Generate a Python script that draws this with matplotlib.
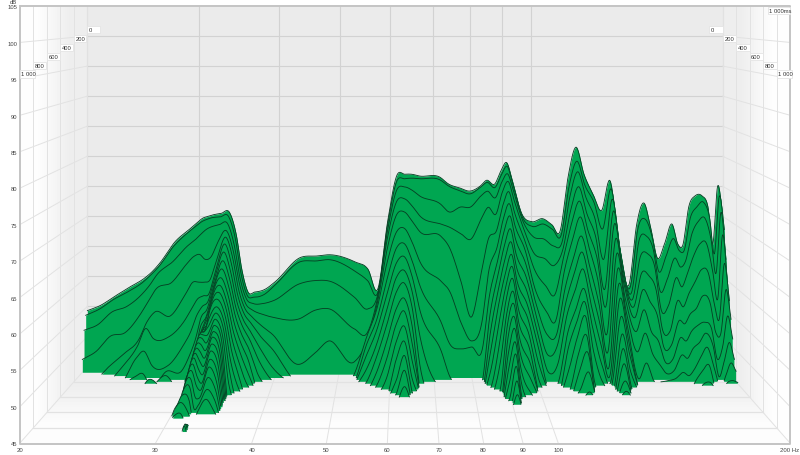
import numpy as np
import matplotlib
matplotlib.use("Agg")
from matplotlib import pyplot as plt
from matplotlib.patches import Polygon, Rectangle

plt.rcParams['font.family'] = ['Liberation Sans', 'DejaVu Sans']

# waterfall data: one row per frequency, dB per time slice (25 ms apart)
SLICE_MS = 25
FREQS = [20.0, 21.0, 22.1, 23.3, 24.6, 25.3, 26.0, 27.5, 29.0, 29.8, 30.4, 31.0, 31.7, 32.1, 32.5,
         33.5, 34.3, 35.0, 35.8, 36.7, 38.0, 39.5, 43.2, 46.0, 48.2, 52.8, 55.3, 57.3, 59.4, 61.4,
         63.2, 64.8, 66.7, 71.8, 74.0, 77.2, 80.0, 83.0, 85.0, 87.6, 89.5, 91.5, 93.2, 96.6, 100.2,
         104.2, 107.7, 111.0, 114.2, 117.5, 121.0, 125.0, 129.0, 133.0, 137.0, 142.5, 146.5, 150.4,
         154.0, 158.0, 162.0, 166.5, 170.0, 173.0, 177.0, 181.0, 185.6, 189.6, 193.0, 196.4, 200.0]
LEVELS = [
    [54.3, 53.8, 51.6, 47.1],
    [55.2, 54.8, 52.5, 48.4],
    [56.7, 56.4, 54.6, 50.9, 46.2],
    [58.2, 57.7, 55.5, 51.5, 48.3, 46.5],
    [59.7, 59.3, 57.5, 54.5, 50.7, 49.9, 48.2, 45.5],
    [60.8, 60.5, 59.0, 56.6, 53.5, 52.7, 49.3, 46.0],
    [62.2, 61.8, 60.8, 58.6, 55.1, 51.1, 47.0, 44.0, 44.0, 45.6],
    [65.8, 65.3, 62.9, 59.7, 54.5, 51.4, 47.0, 46.4, 46.0],
    [67.9, 67.6, 65.5, 62.7, 58.0, 53.9, 50.2, 46.5],
    [69.0, 68.6, 66.5, 64.0, 60.0, 56.0, 52.5, 49.0, 46.5],
    [69.7, 69.3, 67.4, 64.3, 60.0, 57.5, 55.0, 51.5, 48.5, 46.0, 44, 44, 44, 44, 44, 44, 44, 44, 44, 44,
     44, 44, 44, 44, 45.3, 46.0, 46.2, 45.3],
    [70.0, 69.7, 68.2, 63.5, 60.0, 58.0, 56.5, 55.0, 53.5, 52.0, 51.0, 50.5, 50.0, 50.0, 50.0, 50.0, 50.0,
     50.0, 49.8, 49.6, 49.4, 49.2, 49.0, 48.7, 48.3, 47.8, 47.0, 45.7],
    [70.3, 70.0, 68.7, 64.0, 60.5, 58.5, 57.5, 56.5, 55.5, 55.0, 54.5, 54.2, 54.2, 54.2, 54.3, 54.3, 54.0,
     53.5, 53.0, 52.5, 52.0, 51.3, 50.5, 49.5, 48.5, 47.0, 45.5],
    [70.4, 70.05, 68.85, 65.2, 62.2, 60.5, 59.5, 58.5, 57.5, 56.7, 55.8, 55.0, 54.7, 54.5, 54.5, 54.3, 54.0,
     53.3, 52.5, 51.5, 50.5, 49.5, 48.5, 47.0, 45.5, 44, 44, 44, 44, 44, 44, 45.2, 45.5, 45.8, 45.8],
    [70.5, 70.1, 69.0, 66.5, 64.0, 62.5, 61.5, 60.5, 59.8, 59.2, 58.5, 57.8, 57.3, 56.2, 55.2, 54.2, 53.3,
     52.4, 51.5, 50.5, 49.5, 48.5, 47.7, 46.8, 46.0, 45.2],
    [70.6, 70.1, 69.1, 68.1, 67.3, 66.4, 65.3, 64.1, 63.0, 61.8, 60.8, 59.9, 59.0, 58.1, 57.4, 56.7, 56.0,
     55.3, 54.7, 53.9, 53.1, 52.1, 51.2, 49.9, 48.4, 47.2],
    [67.0, 66.5, 65.5, 64.7, 64.0, 63.0, 62.0, 61.0, 60.0, 59.0, 58.0, 57.2, 56.3, 55.5, 54.8, 54.0, 53.4,
     52.8, 52.2, 51.6, 50.8, 50.0, 49.0, 48.0, 46.8, 45.5],
    [61.2, 60.8, 60.2, 59.7, 59.0, 58.3, 57.5, 56.7, 55.8, 54.8, 53.7, 52.5, 51.2, 49.8, 48.3, 46.7],
    [57.4, 57.1, 56.8, 56.3, 55.8, 55.2, 54.5, 53.7, 52.7, 51.6, 50.4, 49.0, 47.5, 46.0],
    [57.4, 56.8, 56.0, 55.2, 54.4, 53.6, 52.6, 51.6, 50.4, 49.0, 47.4, 45.8],
    [57.8, 57.2, 56.0, 54.5, 52.9, 51.4, 49.8, 48.0, 46.0],
    [59.1, 58.7, 56.5, 54.0, 51.5, 49.5, 47.0, 45.2],
    [63.1, 62.6, 59.2, 53.7, 46.6],
    [63.4, 62.8, 59.8, 55.2, 48.5],
    [63.6, 63.0, 59.7, 55.4, 50.4],
    [62.4, 61.1, 57.0, 52.1, 47.0, 45.2],
    [61.2, 59.5, 55.1, 51.5, 50.5, 51.5, 50.5, 49.0, 47.0, 45.2],
    [57.9, 57.5, 57.3, 57.0, 56.5, 56.0, 54.5, 53.0, 51.0, 49.2, 47.0, 45.2],
    [69.2, 68.8, 68.0, 67.0, 65.5, 63.5, 61.0, 58.8, 56.6, 54.4, 52.0, 49.5, 46.8],
    [76.8, 76.0, 74.7, 73.0, 71.0, 68.4, 66.0, 63.8, 61.7, 59.6, 57.2, 55.0, 52.5, 50.0, 47.0, 45.2],
    [77.0, 76.4, 75.2, 73.4, 71.4, 68.9, 66.6, 64.7, 62.7, 60.9, 58.7, 56.9, 54.8, 52.7, 50.8, 48.8, 46.6],
    [77.0, 76.5, 74.7, 72.3, 70.0, 66.8, 64.0, 61.7, 59.5, 57.2, 54.5, 52.0, 49.5, 47.0, 45.2],
    [76.7, 76.4, 73.7, 70.6, 68.2, 63.5, 59.8, 56.0, 52.0, 47.5],
    [76.5, 76.2, 72.4, 69.3, 67.5, 60.4, 54.0, 49.6],
    [75.4, 75.2, 71.1, 68.8, 65.7, 58.8, 50.5, 45.5],
    [74.7, 74.4, 71.9, 67.7, 60.0, 53.5, 49.7],
    [74.2, 73.9, 71.9, 66.8, 54.3, 50.7, 50.0],
    [75.0, 75.0, 73.7, 70.1, 61.8, 53.8, 49.7, 45.2],
    [76.0, 75.8, 74.5, 72.0, 67.0, 62.0, 58.0, 55.0, 52.5, 50.0, 47.5, 45.2],
    [75.4, 75.0, 73.5, 71.0, 68.5, 66.0, 64.0, 62.0, 60.0, 58.0, 55.5, 52.5, 49.5, 46.0],
    [77.5, 77.0, 76.0, 74.5, 72.5, 70.5, 68.5, 66.5, 64.5, 62.5, 60.7, 59.0, 57.0, 55.3, 53.5, 51.5, 49.5,
     47.5, 45.5],
    [78.9, 78.4, 77.3, 76.2, 74.7, 72.9, 71.1, 69.2, 67.3, 65.5, 63.8, 62.1, 60.3, 58.6, 56.8, 55.2, 53.4,
     51.8, 50.2, 48.3, 46.5],
    [76.2, 75.7, 74.7, 73.4, 71.5, 69.5, 67.5, 65.3, 63.3, 61.3, 59.5, 57.5, 55.5, 53.5, 51.5, 49.5, 47.5,
     45.5],
    [70.4, 70.0, 69.5, 68.5, 67.0, 65.5, 63.5, 61.5, 59.5, 57.5, 55.5, 53.5, 51.5, 49.5, 47.3, 45.3],
    [69.1, 68.5, 67.0, 64.5, 62.0, 59.0, 57.0, 55.0, 53.0, 51.0, 48.5, 46.0],
    [69.6, 68.9, 66.6, 63.6, 59.4, 55.5, 52.0, 49.0, 46.5],
    [68.6, 68.0, 65.5, 62.5, 58.0, 54.0, 52.0, 50.5, 48.0, 45.5],
    [67.6, 67.0, 66.0, 65.0, 64.0, 62.0, 59.5, 57.5, 55.5, 53.0, 51.0, 48.0, 45.0],
    [76.5, 75.0, 73.5, 71.5, 69.5, 67.0, 64.2, 62.0, 59.5, 56.8, 55.0, 53.0, 50.5, 48.0, 45.5],
    [81.5, 79.3, 77.7, 75.4, 73.2, 70.8, 67.9, 65.5, 63.0, 60.1, 58.2, 56.1, 53.4, 51.1, 48.3, 45.5],
    [77.0, 75.3, 73.5, 71.0, 68.5, 66.0, 63.0, 60.0, 57.0, 54.0, 50.5, 46.0],
    [73.7, 72.5, 70.0, 67.0, 64.0, 60.5, 57.0, 54.0, 51.0, 48.0, 45.5],
    [71.0, 68.1, 63.3, 58.6, 56.0, 51.8, 49.2, 47.0, 46.0, 45.5, 45.3],
    [75.9, 74.7, 73.2, 71.4, 69.5, 67.2, 65.0, 62.8, 60.6, 58.5, 55.9, 53.4, 51.4, 49.3, 46.9, 45.6],
    [66.2, 65.3, 64.5, 63.0, 61.5, 60.0, 58.0, 56.0, 54.0, 52.0, 50.0, 47.5, 45.2],
    [58.7, 58.5, 57.8, 57.0, 56.0, 54.5, 52.5, 49.5, 45.5],
    [68.7, 68.2, 66.5, 64.0, 61.5, 59.0, 56.0, 52.5, 48.0],
    [72.2, 69.7, 67.1, 64.4, 61.0, 57.0, 52.4, 49.1, 45.1],
    [68.2, 67.0, 65.0, 62.5, 59.0, 55.0, 51.0, 47.5, 45.0],
    [63.0, 61.0, 58.0, 55.0, 52.0, 49.5, 47.5, 46.0, 45.2],
    [65.4, 63.5, 60.0, 56.0, 52.0, 50.0, 48.0, 46.5, 45.5],
    [68.7, 66.5, 63.5, 60.5, 57.0, 54.0, 51.5, 49.0, 46.5],
    [65.4, 64.5, 62.0, 59.0, 56.0, 53.5, 51.0, 48.5, 46.0],
    [65.1, 64.5, 63.0, 61.0, 58.0, 55.0, 52.5, 50.0, 47.0, 45.5],
    [71.7, 70.0, 67.5, 64.0, 60.0, 56.0, 53.5, 51.0, 49.0, 47.0, 45.3],
    [73.4, 71.7, 69.5, 66.0, 62.0, 58.0, 54.0, 52.5, 50.5, 48.0, 45.5],
    [73.4, 72.5, 70.0, 66.0, 61.5, 57.0, 53.0, 50.5, 47.0],
    [71.6, 70.0, 66.5, 61.5, 56.5, 52.0, 48.0, 45.5],
    [65.4, 64.0, 61.0, 57.0, 54.0, 52.0, 50.0, 48.0, 46.0, 45.2],
    [75.0, 73.5, 71.0, 67.5, 63.0, 59.0, 55.0, 51.0, 48.0, 45.5],
    [70.4, 68.0, 63.3, 59.3, 57.0, 54.2, 51.3, 48.3, 46.7, 45.2],
]

DB_TICKS = [45, 50, 55, 60, 65, 70, 75, 80, 85, 90, 95, 100, 105]
FREQ_GRID = [30, 40, 50, 60, 70, 80, 90, 100]
FREQ_LABELS = ['20', '30', '40', '50', '60', '70', '80', '90', '100', '200 Hz']
FREQ_LABEL_POS = [20, 30, 40, 50, 60, 70, 80, 90, 100, 200]
TIME_TICKS = [0, 200, 400, 600, 800, 1000]
TIME_LABELS = ['0', '200', '400', '600', '800', '1 000']

GREEN = '#00a651'
EDGE = '#063f23'
GRID = '#d2d2d2'
SIDE = '#e2e2e2'
TEXT = '#444444'


def project(f, t, db):
    f, t, db = np.broadcast_arrays(np.asarray(f, dtype=float), np.asarray(t, dtype=float),
                                   np.asarray(db, dtype=float))
    s = 0.825 + 0.175 * t / 1000
    front = 20 + 770 * np.log10(f / 20)
    return 405 + (front - 405) * s, 7 + (105 - db) * 437 / 60 * s


def smooth(u, v, uu):
    # cubic hermite through the read values, only so the curves draw round
    m = np.gradient(v, u)
    k = np.clip(np.searchsorted(u, uu) - 1, 0, len(u) - 2)
    h = u[k + 1] - u[k]
    a = (uu - u[k]) / h
    return ((2 * a**3 - 3 * a**2 + 1) * v[k] + (a**3 - 2 * a**2 + a) * h * m[k]
            + (-2 * a**3 + 3 * a**2) * v[k + 1] + (a**3 - a**2) * h * m[k + 1])


fig = plt.figure(figsize=(8, 4.56), dpi=100)
ax = fig.add_axes([0, 0, 1, 1])
ax.axis('off')


def gradient(corners, values, horizontal):
    g = np.array(values, dtype=float)
    g = g[None, :] if horizontal else g[:, None]
    xs = [c[0] for c in corners]
    ys = [c[1] for c in corners]
    im = ax.imshow(g, cmap='gray', vmin=0, vmax=1, aspect='auto', interpolation='bilinear',
                   extent=(min(xs), max(xs), max(ys), min(ys)), zorder=0)
    patch = Polygon(corners, closed=True, transform=ax.transData, fc='none', ec='none')
    ax.add_patch(patch)
    im.set_clip_path(patch)


def label_box(x, y, w, text):
    ax.add_patch(Rectangle((x, y - 3.6), w, 7.2, fc='white', ec='#e4e4e4', lw=0.6, zorder=5))
    ax.text(x + 1.4, y, text, ha='left', va='center', fontsize=4.2, color='#333333', zorder=6)


corner = lambda f, t, db: tuple(float(v) for v in project(f, t, db))
# back wall, floor and side walls
ax.add_patch(Polygon([corner(20, 0, 105), corner(200, 0, 105), corner(200, 0, 45), corner(20, 0, 45)],
                     fc='#ebebeb', ec='none', zorder=0))
gradient([corner(20, 1000, 105), corner(20, 0, 105), corner(20, 0, 45), corner(20, 1000, 45)],
         [0.995, 0.93], True)
gradient([corner(200, 0, 105), corner(200, 1000, 105), corner(200, 1000, 45), corner(200, 0, 45)],
         [0.93, 0.995], True)
gradient([corner(20, 0, 45), corner(200, 0, 45), corner(200, 1000, 45), corner(20, 1000, 45)],
         [0.93, 0.99], False)

for db in DB_TICKS[1:-1]:
    x, y = project([20, 200], 0, db)
    ax.plot(x, y, color=GRID, lw=0.8, zorder=1)
    for f in (20, 200):
        x, y = project(f, [0, 1000], db)
        ax.plot(x, y, color=SIDE, lw=0.7, zorder=1)
for f in [20, 200] + FREQ_GRID:
    x, y = project(f, 0, [45, 105])
    ax.plot(x, y, color=GRID, lw=0.8, zorder=1)
    x, y = project(f, [0, 1000], 45)
    ax.plot(x, y, color=SIDE, lw=0.7, zorder=1)
for t in TIME_TICKS[:-1]:
    x, y = project([20, 200], t, 45)
    ax.plot(x, y, color=SIDE, lw=0.9, zorder=1)
    for f in (20, 200):
        x, y = project(f, t, [45, 105])
        ax.plot(x, y, color=SIDE, lw=0.7, zorder=1)
ax.plot([20, 790, 790, 20, 20], [7, 7, 445, 445, 7], color='#c4c4c4', lw=1.4, zorder=1.5)

# slices from the back to the front
freqs = np.array(FREQS)
u = np.log10(freqs)
n_slices = max(len(r) for r in LEVELS)
table = np.array([r + [44.0] * (n_slices - len(r)) for r in LEVELS])
uu = np.linspace(u[0], u[-1], 1500)
ff = 10**uu
for i in range(n_slices):
    t = i * SLICE_MS
    db = smooth(u, table[:, i], uu)
    up = db > 45
    x, y = project(ff, t, db)
    _, floor_y = project(ff, t, 45)
    ax.fill_between(x, y, floor_y, where=up, color=GREEN, lw=0, zorder=2 + i * 0.01)
    ax.plot(x, np.where(up, y, np.nan), color=EDGE, lw=0.62, zorder=2 + i * 0.01)

# labels
for db in DB_TICKS:
    _, y = project(20, 1000, db)
    ax.text(17, float(y) + 0.8, str(db), ha='right', va='center', fontsize=4.2, color=TEXT, zorder=5)
ax.text(17, 2.4, 'dB', ha='right', va='center', fontsize=4.2, color=TEXT, zorder=5)
for f, label in zip(FREQ_LABEL_POS, FREQ_LABELS):
    x, _ = project(f, 1000, 45)
    ax.text(float(x), 451, label, ha='center', va='center', fontsize=4.3, color=TEXT, zorder=5)

for t, label in zip(TIME_TICKS, TIME_LABELS):
    yy = 30.5 + 44.5 * t / 1000
    x, _ = project(20, t, 45)
    label_box(float(x), yy, 12.6 + 2 * (t == 1000), label)
    x, _ = project(200, t, 45)
    label_box(float(x) - 13.2, yy, 13.2 + 1.6 * (t == 1000), label)
label_box(768, 11.5, 22, '1 000ms')

ax.set_xlim(0, 800)
ax.set_ylim(456, 0)
fig.savefig('out.png', dpi=100, facecolor='white')
